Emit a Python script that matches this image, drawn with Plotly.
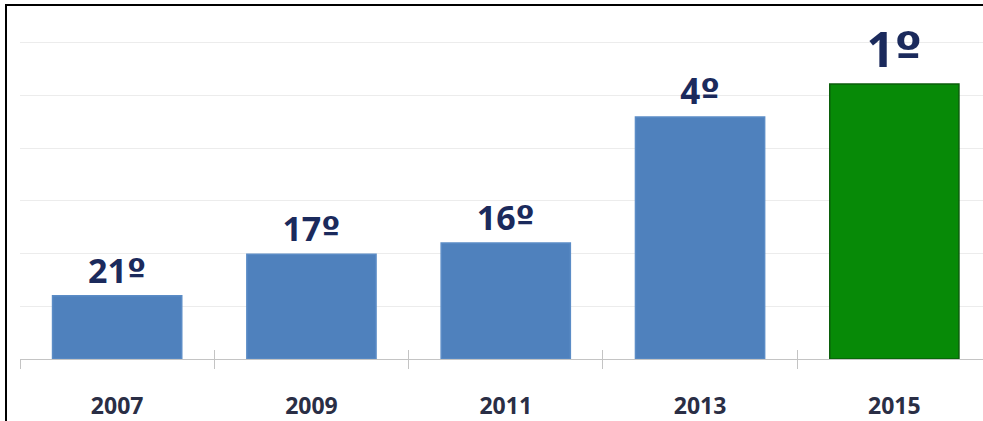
import plotly.graph_objects as go

years = ["2007", "2009", "2011", "2013", "2015"]
values = [1.2, 1.99, 2.2, 4.59, 5.22]
labels = ["21º", "17º", "16º", "4º", "1º"]
label_sizes = [34, 34, 34, 35, 49]
bar_colors = ["#4f81bd", "#4f81bd", "#4f81bd", "#4f81bd", "#078a07"]
bar_lines = ["#5b8cc6", "#5b8cc6", "#5b8cc6", "#5b8cc6", "#0b5e0b"]
grid_vals = [0, 1, 2, 3, 4, 5, 6]

# render the ordinal sign in a face whose "º" carries an underline bar
styled = [t.replace("º", "<span style='font-family:DejaVu Sans'>º</span>") for t in labels]

fig = go.Figure()
fig.add_trace(go.Bar(
    x=years, y=values, text=styled, textposition="outside",
    textfont=dict(family="Open Sans", size=label_sizes, color="#1b2a5c", weight="bold"),
    marker=dict(color=bar_colors, line=dict(color=bar_lines, width=1.5)),
    width=0.665, cliponaxis=False, constraintext="none", showlegend=False,
    hoverinfo="skip",
))
# invisible helper traces so the tick overlay and the frame axes get drawn
fig.add_trace(go.Bar(x=years, y=[0] * len(years), xaxis="x2", showlegend=False,
                     hoverinfo="skip", marker=dict(opacity=0)))
fig.add_trace(go.Bar(x=years, y=[0] * len(years), xaxis="x3", yaxis="y2", showlegend=False,
                     hoverinfo="skip", marker=dict(opacity=0)))

W, H = 983, 421
ml, mt = 7, 6
pw, ph = W - ml, H - mt
base_px = 359
unit = 52.7
cat = 194.3
x_left = 20
dom0 = (x_left - ml) / pw
xr = [-0.5, -0.5 + (W - x_left) / cat]
yr = [-(H - base_px) / unit, (base_px - mt) / unit]
pos = (H - base_px) / ph

fig.update_layout(
    width=W, height=H,
    margin=dict(l=ml, r=0, t=mt, b=0),
    plot_bgcolor="rgba(0,0,0,0)", paper_bgcolor="white",
    xaxis=dict(type="category", range=xr, domain=[dom0, 1], anchor="free", position=pos,
               showgrid=False, showline=True, linecolor="#c4c4c4", linewidth=1,
               ticks="outside", tickson="boundaries", ticklen=9, tickcolor="#c4c4c4",
               tickfont=dict(family="Open Sans", size=23, color="#2a2e45", weight="bold"),
               ticklabelstandoff=26, zeroline=False),
    xaxis2=dict(type="category", range=xr, overlaying="x", anchor="free", position=pos,
                domain=[dom0, 1], showgrid=False, showline=False, ticks="inside",
                tickson="boundaries", ticklen=9, tickcolor="#c4c4c4",
                showticklabels=False),
    yaxis=dict(range=yr, tickvals=grid_vals, showgrid=True,
               gridcolor="#ececec", gridwidth=1, showticklabels=False,
               zeroline=False, showline=False),
    xaxis3=dict(type="category", domain=[0, 1], anchor="y2", side="top",
                showline=True, linecolor="black", linewidth=2, showgrid=False,
                ticks="", showticklabels=False, zeroline=False),
    yaxis2=dict(range=yr, domain=[0, 1], anchor="x3", showline=True, linecolor="black",
                linewidth=2, showgrid=False, ticks="", showticklabels=False,
                zeroline=False),
)
fig.write_html("out.html", config={"displayModeBar": False})
